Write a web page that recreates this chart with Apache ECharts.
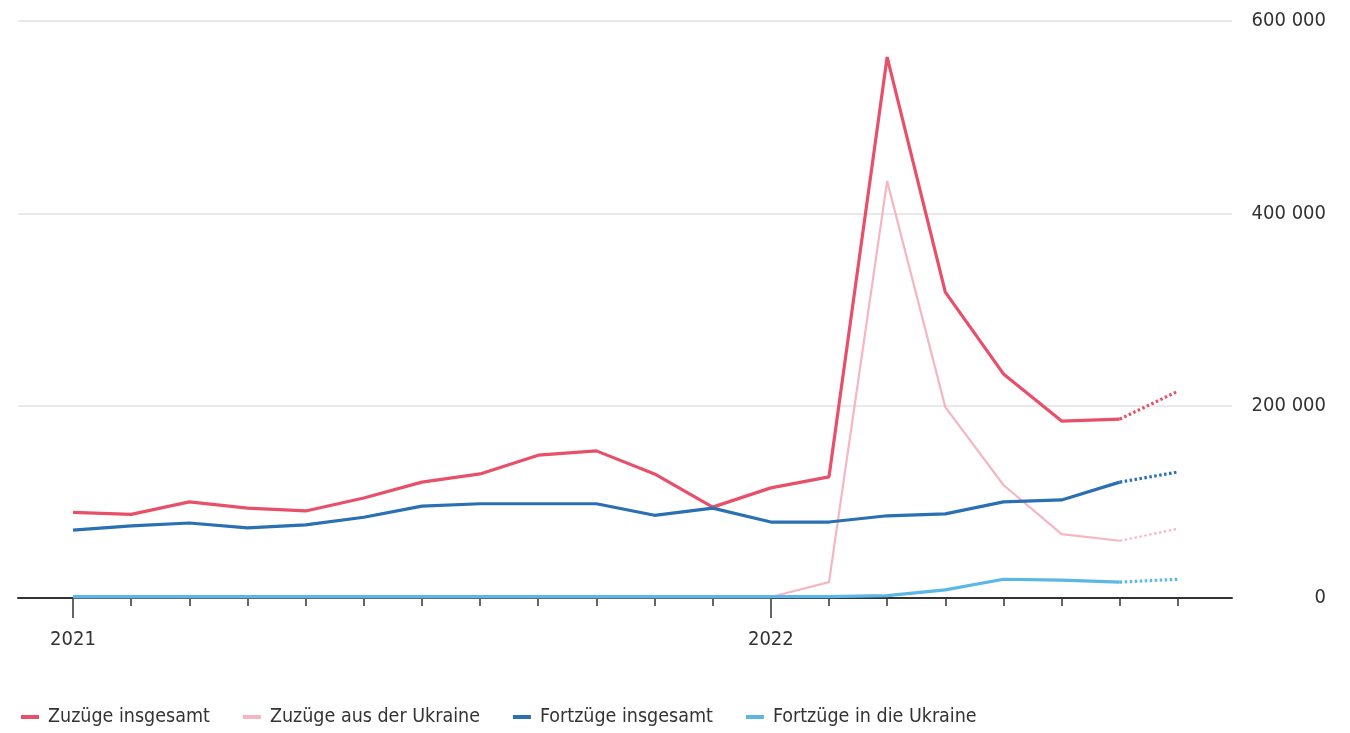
<!DOCTYPE html>
<html>
<head>
<meta charset="utf-8">
<script src="https://cdn.jsdelivr.net/npm/echarts@6/dist/echarts.min.js"></script>
<style>
  html, body { margin: 0; padding: 0; background: #fff; }
  #main { width: 1350px; height: 733px; }
</style>
</head>
<body>
<div id="main"></div>
<script>
// Monate Jan 2021 bis Aug 2022 (Aug 2022 = Schätzung, gepunktet)
var months = ['2021-01','2021-02','2021-03','2021-04','2021-05','2021-06','2021-07','2021-08','2021-09','2021-10','2021-11','2021-12',
              '2022-01','2022-02','2022-03','2022-04','2022-05','2022-06','2022-07','2022-08'];
var yearTicks = [0, 12];
var yearLabels = ['2021', '2022'];

var zuzuegeGesamt = [89000, 87000, 100000, 93500, 90500, 104000, 120500, 129000, 148500, 153000, 129000, 94500,
                     114500, 126000, 562500, 318000, 233000, 184000, 186000, 215000];
var zuzuegeUkraine = [1000, 1000, 1000, 1000, 1000, 1000, 1000, 1000, 1000, 1000, 1000, 1000,
                      1000, 16500, 433500, 198500, 117500, 66500, 59500, 72000];
var fortzuegeGesamt = [70500, 75000, 78000, 73000, 76000, 84000, 95500, 98000, 98000, 98000, 86000, 93500,
                       79000, 79000, 85500, 87500, 100000, 102000, 120500, 131000];
var fortzuegeUkraine = [1500, 1500, 1500, 1500, 1500, 1500, 1500, 1500, 1500, 1500, 1500, 1500,
                        1500, 1500, 2500, 8500, 19500, 18500, 16500, 19500];

var names = ['Zuzüge insgesamt', 'Zuzüge aus der Ukraine', 'Fortzüge insgesamt', 'Fortzüge in die Ukraine'];
var colors = ['#e8506a', '#f5b6c2', '#2a70b3', '#5ab7e6'];
var widths = [3.2, 2.2, 3.2, 3.2];
var lastSolid = 18; // Jul 2022, danach gepunktet

var font = "'Liberation Sans Narrow', 'DejaVu Sans Condensed', sans-serif";

function solidPart(arr) {
  return arr.map(function (v, i) { return i <= lastSolid ? [i, v] : null; }).filter(Boolean);
}
function dottedPart(arr) {
  return arr.map(function (v, i) { return i >= lastSolid ? [i, v] : null; }).filter(Boolean);
}

var myChart = echarts.init(document.getElementById('main'));

var seriesList = [];
[zuzuegeGesamt, zuzuegeUkraine, fortzuegeGesamt, fortzuegeUkraine].forEach(function (arr, k) {
  seriesList.push({
    name: names[k], type: 'line', data: solidPart(arr), symbol: 'none', z: 2 + k,
    lineStyle: { color: colors[k], width: widths[k] }, itemStyle: { color: colors[k] }
  });
  seriesList.push({
    name: names[k], type: 'line', data: dottedPart(arr), symbol: 'none', z: 2 + k,
    lineStyle: { color: colors[k], width: widths[k], type: [2.5, 2.5] }, itemStyle: { color: colors[k] }
  });
});

option = {
  animation: false,
  textStyle: { fontFamily: font },
  grid: { left: 18, right: 118, top: 21, bottom: 135 },
  legend: {
    data: names,
    left: 16, bottom: 1,
    icon: 'rect', itemWidth: 18, itemHeight: 4, itemGap: 33,
    textStyle: { fontFamily: font, fontSize: 19.5, color: '#333', padding: [0, 0, 0, 4] }
  },
  xAxis: [
    {
      type: 'value', min: -0.946, max: 19.93,
      splitLine: { show: false },
      axisLine: { show: true, onZero: false, lineStyle: { color: '#333', width: 2 } },
      axisTick: { show: true, length: 8, customValues: months.map(function (m, i) { return i; }), lineStyle: { color: '#333', width: 1.5 } },
      axisLabel: { show: false }
    },
    {
      type: 'value', min: -0.946, max: 19.93, position: 'bottom',
      splitLine: { show: false },
      axisLine: { show: false },
      axisTick: { show: true, length: 20, customValues: yearTicks, lineStyle: { color: '#333', width: 1.5 } },
      axisLabel: {
        show: true, customValues: yearTicks, margin: 32,
        fontSize: 20, color: '#333', fontFamily: font,
        formatter: function (v) { return yearLabels[yearTicks.indexOf(Math.round(v))]; }
      }
    }
  ],
  yAxis: {
    type: 'value', position: 'right', min: 0, max: 600000, interval: 200000,
    axisLine: { show: false }, axisTick: { show: false },
    splitLine: { lineStyle: { color: '#e2e2e2', width: 1.5 } },
    axisLabel: {
      margin: 94, align: 'right', fontSize: 20, color: '#333', fontFamily: font,
      formatter: function (v) { return String(v).replace(/\B(?=(\d{3})+(?!\d))/g, ' '); }
    }
  },
  series: seriesList
};

myChart.setOption(option);
</script>
</body>
</html>
